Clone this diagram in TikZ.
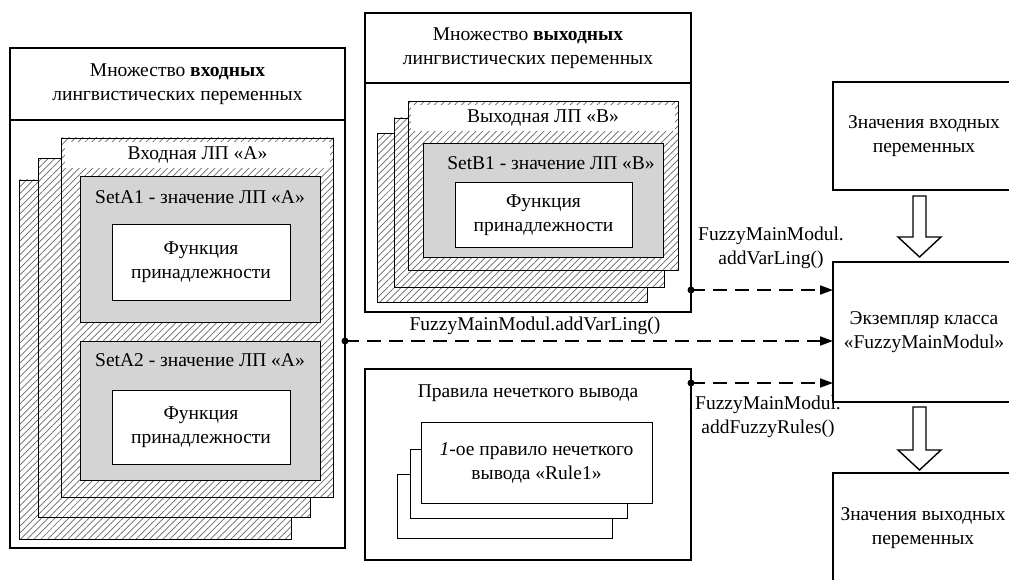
\documentclass[tikz,border=0pt]{standalone}
\usepackage{fontspec}
\setmainfont{Liberation Serif}
\usetikzlibrary{shapes,arrows.meta,calc,patterns.meta}

\begin{document}
\begin{tikzpicture}[x=1pt,y=-1pt,
  box/.style={draw, line width=1.4pt, inner sep=0, outer sep=0},
  fatbox/.style={draw, line width=2.8pt, fill=white, inner sep=0, outer sep=0},
  hatchbox/.style={draw, line width=0.9pt, preaction={fill=white},
    pattern={Lines[angle=45,distance=4.8pt,line width=0.7pt]}, pattern color=black!60,
    inner sep=0, outer sep=0},
  setbox/.style={draw, line width=1pt, fill=black!17, inner sep=0, outer sep=0},
  fbox/.style={draw, line width=1pt, fill=white, inner sep=0, outer sep=0},
  txt/.style={align=center, font=\fontsize{19.5}{24}\selectfont, inner sep=0},
  call/.style={line width=1.8pt, dash pattern=on 14pt off 8pt, -{Triangle[length=13pt,width=9pt]}},
  blk/.style={line width=1.4pt, fill=white}]
  \useasboundingbox (0,0) rectangle (1009,580);
  \clip (0,0) rectangle (1009,580);

  \node [box, minimum width=335, minimum height=500] (inset) at (177.5,298) {};
  \node [box, txt, minimum width=335, minimum height=72] (inhead) at (177.5,84)
    {Множество \textbf{входных}\\лингвистических переменных};
  \node [hatchbox, minimum width=272, minimum height=359] (A3) at (155,359.5) {};
  \node [hatchbox, minimum width=272, minimum height=359] (A2) at (174,338) {};
  \node [hatchbox, minimum width=272, minimum height=359] (A1) at (197.5,317.5) {};
  \node [txt, fill=white, minimum width=265, minimum height=26] (Atitle) at (197.5,155) {Входная ЛП «А»};
  \node [setbox, minimum width=240, minimum height=145] (setA1) at (200,249.5) {};
  \node [txt] at (200,197) {SetA1 - значение ЛП «А»};
  \node [fbox, txt, minimum width=178, minimum height=75] (fA1) at (201,262.5) {Функция\\принадлежности};
  \node [setbox, minimum width=240, minimum height=139] (setA2) at (200,410.5) {};
  \node [txt] at (200,360) {SetA2 - значение ЛП «А»};
  \node [fbox, txt, minimum width=178, minimum height=74] (fA2) at (201,427) {Функция\\принадлежности};

  \node [box, minimum width=326, minimum height=299] (outset) at (528,162.5) {};
  \node [box, txt, minimum width=326, minimum height=70] (outhead) at (528,48)
    {Множество \textbf{выходных}\\лингвистических переменных};
  \node [hatchbox, minimum width=270, minimum height=169] (B3) at (512,218) {};
  \node [hatchbox, minimum width=270, minimum height=169] (B2) at (529,202.5) {};
  \node [hatchbox, minimum width=270, minimum height=169] (B1) at (543,186) {};
  \node [txt, fill=white, minimum width=264, minimum height=26] (Btitle) at (543,118) {Выходная ЛП «B»};
  \node [setbox, minimum width=240, minimum height=113] (setB1) at (543,200.5) {};
  \node [txt] at (551,163) {SetB1 - значение ЛП «B»};
  \node [fbox, txt, minimum width=177, minimum height=64] (fB1) at (543.5,215) {Функция\\принадлежности};

  \node [box, minimum width=326, minimum height=191] (rules) at (528,464.5) {};
  \node [txt] at (528,393) {Правила нечеткого вывода};
  \node [fbox, minimum width=215, minimum height=64] (R3) at (504.5,506) {};
  \node [fbox, minimum width=217, minimum height=69] (R2) at (518.5,483.5) {};
  \node [fbox, txt, minimum width=231, minimum height=81] (R1) at (536.5,462.5)
    {\textit{1}-ое правило нечеткого\\вывода «Rule1»};

  \node [fatbox, txt, minimum width=182, minimum height=108] (inval) at (924,136)
    {Значения входных\\переменных};
  \node [fatbox, txt, minimum width=182, minimum height=140] (fmm) at (924,332)
    {Экземпляр класса\\«FuzzyMainModul»};
  \node [fatbox, minimum width=182, minimum height=137] (outval) at (924,541.5) {};
  \node [txt] at (923,528) {Значения выходных\\переменных};

  \coordinate (d1) at (691,290);
  \coordinate (d2) at (345,341);
  \coordinate (d3) at (691,383);
  \fill (d1) circle (3.5pt);
  \fill (d2) circle (3.5pt);
  \fill (d3) circle (3.5pt);
  \draw [call] (d1) -- (d1 -| fmm.west);
  \draw [call] (d2) -- (d2 -| fmm.west);
  \draw [call] (d3) -- (d3 -| fmm.west);
  \node [txt] at (771,248) {FuzzyMainModul.\\addVarLing()};
  \node [txt] at (535,326) {FuzzyMainModul.addVarLing()};
  \node [txt] at (768,417) {FuzzyMainModul.\\addFuzzyRules()};

  \draw [blk] ($(inval.south)+(-11,6)$) -- ++(0,41) -- ++(-15,0)
    -- ($(fmm.north)+(-4.5,-5)$) -- ++(21.5,-20) -- ++(-15,0) -- ++(0,-41) -- cycle;
  \draw [blk] ($(fmm.south)+(-11,5)$) -- ++(0,43) -- ++(-15,0)
    -- ($(outval.north)+(-4.5,-3)$) -- ++(21.5,-20) -- ++(-15,0) -- ++(0,-43) -- cycle;
\end{tikzpicture}
\end{document}
